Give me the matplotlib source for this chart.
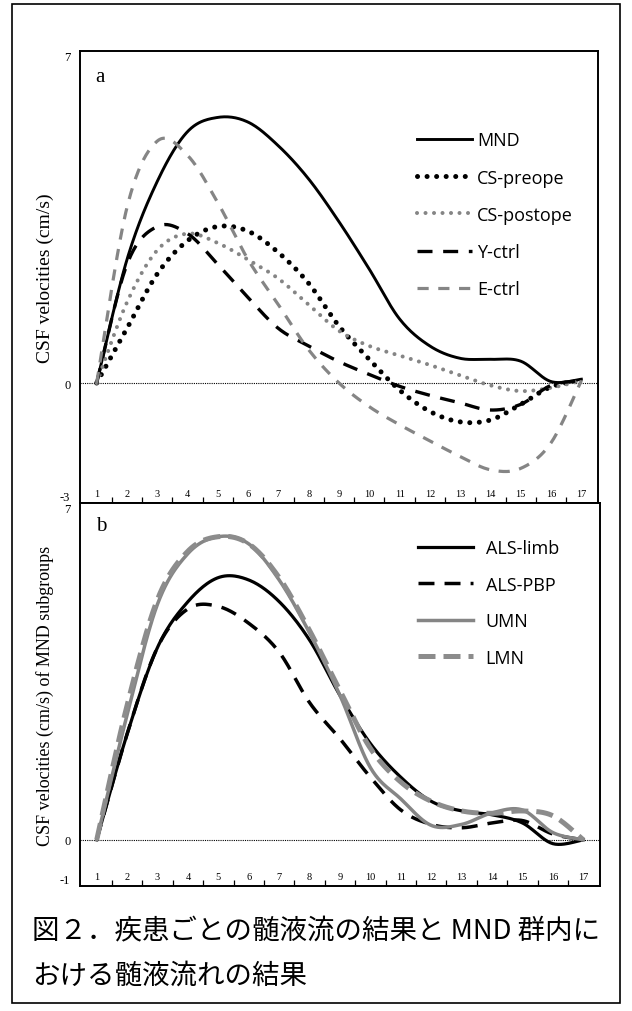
import numpy as np
import matplotlib
matplotlib.use('Agg')
import matplotlib.pyplot as plt
from matplotlib.patches import Rectangle

# data: CSF velocity (cm/s) at phases 1..17
phases = list(range(1, 18))

mnd = [0, 2.6, 4.25, 5.3, 5.6, 5.5, 5.0, 4.3, 3.4, 2.4, 1.35, 0.78, 0.52, 0.5, 0.46, 0.03, 0.08]
cs_preope = [0, 1.15, 2.3, 3.0, 3.3, 3.2, 2.75, 2.1, 1.2, 0.5, -0.15, -0.6, -0.82, -0.78, -0.45, -0.08, 0.05]
cs_postope = [0, 1.7, 2.8, 3.15, 2.95, 2.6, 2.2, 1.65, 1.1, 0.78, 0.58, 0.38, 0.16, -0.05, -0.17, -0.1, 0.05]
y_ctrl = [0, 2.5, 3.3, 3.15, 2.5, 1.8, 1.15, 0.78, 0.45, 0.18, -0.07, -0.26, -0.42, -0.57, -0.45, -0.05, 0.05]
e_ctrl = [0, 3.7, 5.1, 4.8, 3.8, 2.6, 1.65, 0.7, 0.0, -0.5, -0.88, -1.22, -1.55, -1.83, -1.8, -1.26, 0.05]

als_limb = [0, 2.2, 4.0, 4.95, 5.45, 5.4, 4.95, 4.15, 3.0, 2.0, 1.3, 0.8, 0.6, 0.52, 0.35, -0.08, 0]
als_pbp = [0, 2.2, 4.0, 4.8, 4.85, 4.5, 3.9, 2.85, 2.1, 1.3, 0.62, 0.32, 0.25, 0.35, 0.4, 0.12, 0]
umn = [0, 2.6, 4.9, 5.95, 6.3, 6.15, 5.4, 4.3, 3.0, 1.5, 0.85, 0.3, 0.32, 0.56, 0.62, 0.15, 0]
lmn = [0, 2.8, 5.0, 6.0, 6.3, 6.15, 5.45, 4.35, 3.1, 1.9, 1.2, 0.8, 0.6, 0.55, 0.6, 0.5, 0]

labels_a = ['MND', 'CS-preope', 'CS-postope', 'Y-ctrl', 'E-ctrl']
labels_b = ['ALS-limb', 'ALS-PBP', 'UMN', 'LMN']

GRAY = '#858585'
SERIF = ['Liberation Serif', 'DejaVu Serif']
SANS = ['Open Sans', 'DejaVu Sans']


def smooth(x, y, n=24):
    """Bezier smoothing through the points (spreadsheet style)."""
    pts = np.column_stack([x, y]).astype(float)
    P = np.vstack([pts[0], pts, pts[-1]])
    t = np.linspace(0, 1, n, endpoint=False)[:, None]
    out = []
    for i in range(1, len(P) - 2):
        p0, p1, p2, p3 = P[i - 1], P[i], P[i + 1], P[i + 2]
        c1 = p1 + (p2 - p0) / 6
        c2 = p2 - (p3 - p1) / 6
        out.append((1 - t) ** 3 * p1 + 3 * (1 - t) ** 2 * t * c1
                   + 3 * (1 - t) * t ** 2 * c2 + t ** 3 * p2)
    out.append(pts[-1:])
    s = np.vstack(out)
    return s[:, 0], s[:, 1]


def style_axes(ax, ybottom, ylabel_bottom):
    ax.set_xlim(0.45, 17.55)
    ax.set_ylim(ybottom, 7)
    for sp in ax.spines.values():
        sp.set_linewidth(1.4)
        sp.set_color('black')
    ax.axhline(0, color='black', ls=(0, (1, 1)), lw=0.8, zorder=1)
    # tick marks between the phases, labels inside above the axis
    ax.set_xticks(np.arange(1.5, 17, 1))
    ax.set_xticklabels([])
    ax.tick_params(axis='x', which='major', direction='in', length=4, width=0.9)
    ax.set_xticks(phases, minor=True)
    ax.set_xticklabels([str(p) for p in phases], minor=True,
                       fontfamily=SERIF, fontsize=7.5)
    ax.tick_params(axis='x', which='minor', length=0, pad=-10)
    ax.set_yticks([ybottom, 0, 7])
    ax.set_yticklabels([ylabel_bottom, '0', '7'], fontfamily=SERIF, fontsize=9)
    ax.tick_params(axis='y', length=0, pad=7)
    tl = ax.get_yticklabels()
    tl[0].set_va('bottom')
    tl[2].set_va('top')


fig = plt.figure(figsize=(6.32, 10.12), dpi=100)

# panel a
ax1 = fig.add_axes([80 / 632, 1 - 504 / 1012, 518 / 632, 452 / 1012])
style_axes(ax1, -2.53, '-3')
specs_a = [
    (mnd, dict(color='black', lw=2.1, ls='-')),
    (cs_preope, dict(color='black', lw=3.6, ls=(0, (0.01, 1.9)), dash_capstyle='round')),
    (cs_postope, dict(color=GRAY, lw=2.9, ls=(0, (0.01, 2.1)), dash_capstyle='round')),
    (y_ctrl, dict(color='black', lw=2.4, ls=(0, (4.5, 3.2)))),
    (e_ctrl, dict(color=GRAY, lw=2.3, ls=(0, (3.5, 3.0)))),
]
for (vals, kw), lab in zip(specs_a, labels_a):
    sx, sy = smooth(phases, vals)
    ax1.plot(sx, sy, label=lab, zorder=3, **kw)
ax1.legend(loc='upper left', bbox_to_anchor=(0.651, 0.822), frameon=False,
           borderpad=0, borderaxespad=0, handlelength=3.05, handletextpad=0.28,
           labelspacing=1.06, prop={'family': SANS, 'size': 13})
ax1.text(0.03, 0.965, 'a', transform=ax1.transAxes, fontfamily=SERIF,
         fontsize=15, va='top', ha='left')
ax1.set_ylabel('CSF velocities (cm/s)', fontfamily=SERIF, fontsize=14, labelpad=4)

# panel b
ax2 = fig.add_axes([80 / 632, 1 - 887 / 1012, 520 / 632, 383 / 1012])
style_axes(ax2, -0.96, '-1')
specs_b = [
    (als_limb, dict(color='black', lw=2.3, ls='-')),
    (als_pbp, dict(color='black', lw=2.5, ls=(0, (4.6, 2.9)))),
    (umn, dict(color=GRAY, lw=2.5, ls='-')),
    (lmn, dict(color='#8c8c8c', lw=3.6, ls=(0, (3.4, 1.6)))),
]
for (vals, kw), lab in zip(specs_b, labels_b):
    sx, sy = smooth(phases, vals)
    ax2.plot(sx, sy, label=lab, zorder=3, **kw)
ax2.legend(loc='upper left', bbox_to_anchor=(0.65, 0.906), frameon=False,
           borderpad=0, borderaxespad=0, handlelength=3.05, handletextpad=0.7,
           labelspacing=1.03, prop={'family': SANS, 'size': 13})
ax2.text(0.03, 0.965, 'b', transform=ax2.transAxes, fontfamily=SERIF,
         fontsize=15, va='top', ha='left')
ax2.set_ylabel('CSF velocities (cm/s) of MND subgroups', fontfamily=SERIF,
               fontsize=13, labelpad=4)

# caption and outer frame
cap_font = ['Noto Sans CJK JP', 'DejaVu Sans']
fig.text(32 / 632, 1 - 932 / 1012, '図２．疾患ごとの髄液流の結果と MND 群内に',
         fontfamily=cap_font, fontsize=19.8, va='center', ha='left')
fig.text(32 / 632, 1 - 976 / 1012, 'おける髄液流れの結果',
         fontfamily=cap_font, fontsize=19.8, va='center', ha='left')
fig.patches.append(Rectangle((12 / 632, 1 - 1004 / 1012), 608 / 632, 999 / 1012,
                             transform=fig.transFigure, fill=False,
                             edgecolor='black', lw=1.2))

fig.savefig('out.png', dpi=100)
